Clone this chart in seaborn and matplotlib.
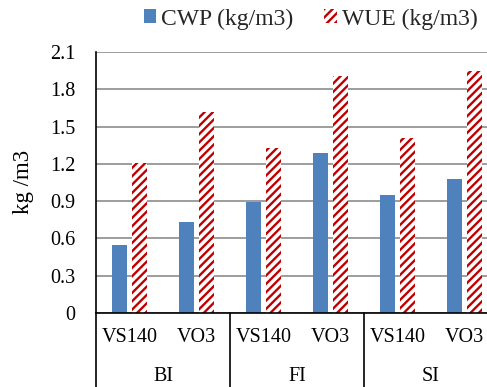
import matplotlib
matplotlib.use("Agg")
import matplotlib.pyplot as plt
import matplotlib.transforms as mtransforms
from matplotlib.patches import Patch
import seaborn as sns
import pandas as pd

groups = ["BI", "FI", "SI"]
varieties = ["VS140", "VO3"]
series = ["CWP (kg/m3)", "WUE (kg/m3)"]
cwp = [0.55, 0.73, 0.89, 1.29, 0.95, 1.08]
wue = [1.21, 1.62, 1.33, 1.91, 1.41, 1.95]
yticks = [0, 0.3, 0.6, 0.9, 1.2, 1.5, 1.8, 2.1]
ytick_labels = ["0", "0.3", "0.6", "0.9", "1.2", "1.5", "1.8", "2.1"]
ylabel = "kg /m3"

cats = [f"{g}-{v}" for g in groups for v in varieties]
df = pd.DataFrame({
    "cat": cats * 2,
    "value": cwp + wue,
    "series": [series[0]] * len(cats) + [series[1]] * len(cats),
})

BLUE = "#4F81BD"
RED = "#C00000"

sns.set_theme(style="white")
plt.rcParams["font.family"] = ["Liberation Serif", "DejaVu Serif"]
plt.rcParams["hatch.linewidth"] = 1.7

fig = plt.figure(figsize=(4.87, 3.87), dpi=100)
ax = fig.add_axes([96 / 487, 74 / 387, 402 / 487, 261 / 387])

sns.barplot(data=df, x="cat", y="value", hue="series", order=cats,
            hue_order=series, palette=[BLUE, "white"], width=0.58, gap=0.23,
            saturation=1, linewidth=0, legend=False, ax=ax, zorder=3)

for p in ax.containers[1]:
    p.set_hatch("////")
    p.set_edgecolor(RED)
    p.set_facecolor("white")
    p.set_linewidth(0)

ax.set_xlim(-0.5, len(cats) - 0.5)
ax.set_ylim(0, 2.1)
ax.set_yticks(yticks)
ax.set_yticklabels(ytick_labels)
ax.tick_params(axis="y", length=0, pad=15, labelsize=14.5, colors="black")
ax.set_xticks([])
ax.set_xlabel("")
ax.set_ylabel("")
ax.yaxis.grid(True, color="#8C8C8C", linewidth=1.2)
ax.set_axisbelow(True)
for s in ["top", "right"]:
    ax.spines[s].set_visible(False)
for s in ["left", "bottom"]:
    ax.spines[s].set_color("black")
    ax.spines[s].set_linewidth(1.2)
    ax.spines[s].set_zorder(4)

trans = mtransforms.blended_transform_factory(ax.transData, ax.transAxes)
for i, c in enumerate(cats):
    ax.text(i, -0.092, varieties[i % 2], transform=trans, ha="center",
            va="center", fontsize=14.5, color="black")
for gi, g in enumerate(groups):
    ax.text(gi * 2 + 0.5, -0.245, g, transform=trans, ha="center",
            va="center", fontsize=14.5, color="black")
for xb in [-0.5, 1.5, 3.5, 5.5]:
    ax.plot([xb, xb], [0, -0.29], transform=trans, color="black",
            linewidth=1.2, clip_on=False, zorder=5)

fig.text(24 / 487, 1 - 182 / 387, ylabel, rotation=90, ha="center",
         va="center", fontsize=16.5, color="black")

handles = [Patch(facecolor=BLUE, edgecolor=BLUE, linewidth=0),
           Patch(facecolor="white", edgecolor=RED, hatch="////", linewidth=0)]
fig.legend(handles, series, loc="center left",
           bbox_to_anchor=(144 / 487, 1 - 19 / 387), ncol=2, frameon=False,
           fontsize=17, handlelength=0.52, handleheight=0.52,
           handletextpad=0.22, columnspacing=1.3, borderpad=0,
           borderaxespad=0)

fig.savefig("out.png", dpi=100)
